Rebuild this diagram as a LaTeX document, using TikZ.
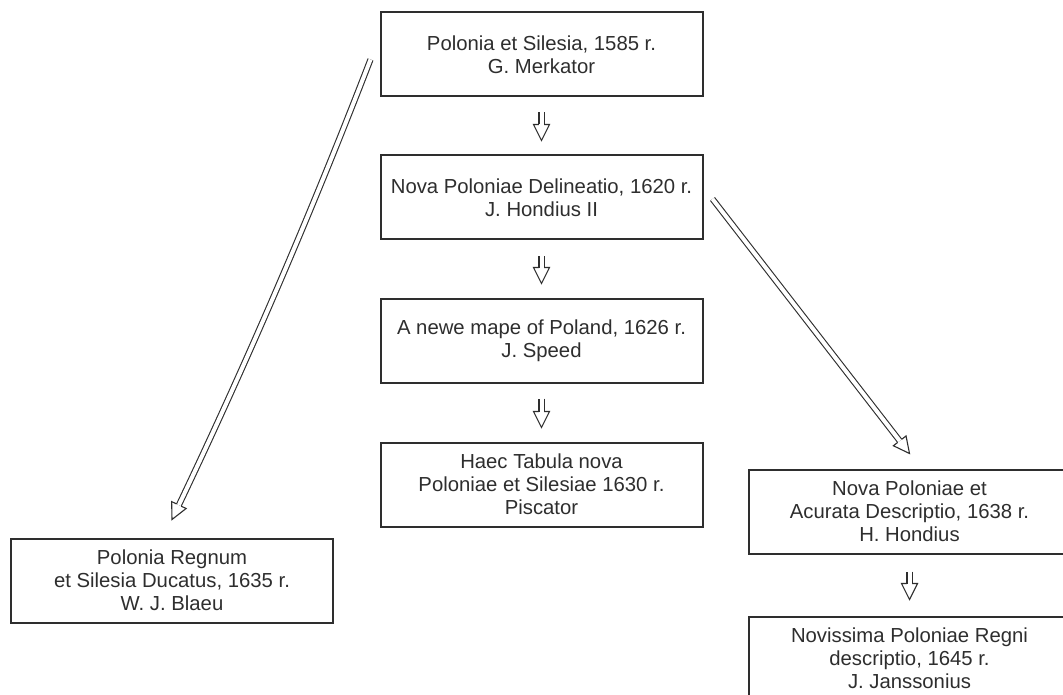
\documentclass[tikz,border=0pt]{standalone}
\usepackage{fontspec}
\setmainfont{Liberation Sans}
\usetikzlibrary{calc}
\definecolor{ink}{HTML}{2E2E2E}
\newcommand\arrowhead[2]{%
  \draw[head] ($(#1)!2.6pt!90:(#2)$) -- ($(#1)!8pt!90:(#2)$) -- (#2) -- ($(#1)!8pt!-90:(#2)$) -- ($(#1)!2.6pt!-90:(#2)$);%
}
\newcommand\harrow[2]{%
  \coordinate (hb) at ($(#2)!16pt!(#1)$);
  \draw[shaft] (#1) -- (hb);
  \arrowhead{hb}{#2}%
}
\begin{document}
\begin{tikzpicture}[x=1pt,y=-1pt,
  box/.style={draw=ink, line width=2pt, minimum width=322pt, minimum height=84pt, inner sep=0pt, align=center, text=ink, font=\fontsize{20.3}{23}\selectfont},
  shaft/.style={draw=ink, double=white, double distance=4pt, line width=1.1pt},
  head/.style={draw=ink, line width=1.1pt, line join=miter}]
\useasboundingbox (0,0) rectangle (1063,695);
\clip (0,0) rectangle (1063,695);
\fill[white] (0,0) rectangle (1063,695);

\node[box] (m)  at (541.5,54.5)  {Polonia et Silesia, 1585 r.\\G. Merkator};
\node[box] (h2) at (541.5,197.5) {Nova Poloniae Delineatio, 1620 r.\\J. Hondius II};
\node[box] (sp) at (541.5,340.5) {A newe mape of Poland, 1626 r.\\J. Speed};
\node[box] (pi) at (541.5,484.5) {Haec Tabula nova\\Poloniae et Silesiae 1630 r.\\Piscator};
\node[box] (bl) at (172,580.5)   {Polonia Regnum\\et Silesia Ducatus, 1635 r.\\W. J. Blaeu};
\node[box] (hh) at (909.5,511.5) {Nova Poloniae et\\Acurata Descriptio, 1638 r.\\H. Hondius};
\node[box] (ja) at (909.5,658.5) {Novissima Poloniae Regni\\descriptio, 1645 r.\\J. Janssonius};

% short vertical arrows
\coordinate (a1s) at ($(m.south)+(0,15)$);  \coordinate (a1e) at ($(h2.north)+(0,-14)$);
\coordinate (a2s) at ($(h2.south)+(0,16)$); \coordinate (a2e) at ($(sp.north)+(0,-14)$);
\coordinate (a3s) at ($(sp.south)+(0,15)$); \coordinate (a3e) at ($(pi.north)+(0,-14)$);
\coordinate (a4s) at ($(hh.south)+(0,17)$); \coordinate (a4e) at ($(ja.north)+(0,-16)$);
\harrow{a1s}{a1e}
\harrow{a2s}{a2e}
\harrow{a3s}{a3e}
\harrow{a4s}{a4e}

% long diagonal arrow to the right
\coordinate (rs) at ($(h2.east)+(9,1.5)$);
\coordinate (rt) at ($(hh.north)+(0,-15)$);
\harrow{rs}{rt}

% long slightly curved arrow to the left
\coordinate (ls) at ($(m.west)+(-9,5)$);
\coordinate (le) at ($(bl.north)+(0,-18)$);
\coordinate (lc2) at (248,360);
\coordinate (lhb) at ($(le)!16pt!(lc2)$);
\draw[shaft] (ls) .. controls (312,211) and (lc2) .. (lhb);
\arrowhead{lhb}{le}
\end{tikzpicture}
\end{document}
